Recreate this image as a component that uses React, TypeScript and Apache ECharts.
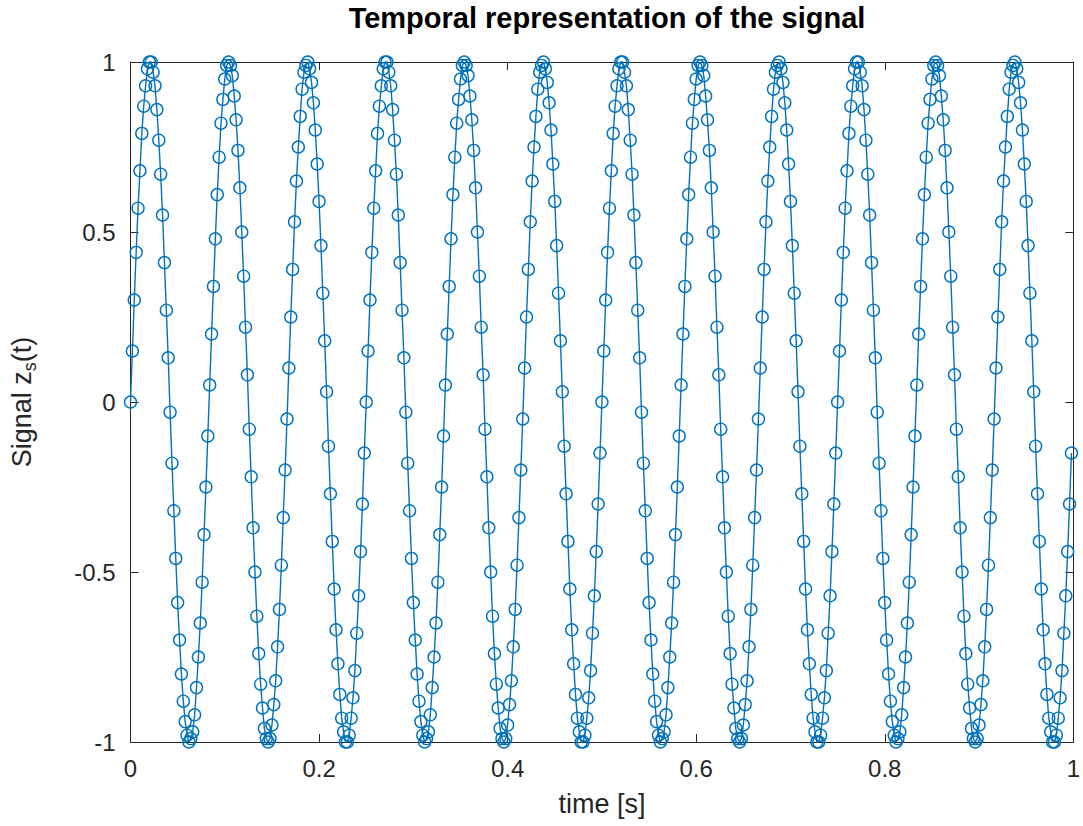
import React, { useEffect, useRef } from "react";
import * as echarts from "echarts";

const titleText = "Temporal representation of the signal";
const xLabel = "time [s]";
const sampleRate = 500; // samples per second, t = n / sampleRate
const xTicks = { min: 0, max: 1, interval: 0.2 };
const yTicks = { min: -1, max: 1, interval: 0.5 };

const signal = [
  0, 0.15, 0.30, 0.44, 0.57, 0.68, 0.79, 0.87, 0.93, 0.98,
  1.00, 1.00, 0.97, 0.93, 0.86, 0.77, 0.67, 0.55, 0.41, 0.27,
  0.13, -0.03, -0.18, -0.32, -0.46, -0.59, -0.70, -0.80, -0.88, -0.94,
  -0.98, -1.00, -0.99, -0.97, -0.92, -0.84, -0.75, -0.65, -0.53, -0.39,
  -0.25, -0.10, 0.05, 0.20, 0.34, 0.48, 0.61, 0.72, 0.82, 0.89,
  0.95, 0.99, 1.00, 0.99, 0.96, 0.90, 0.83, 0.74, 0.63, 0.50,
  0.37, 0.22, 0.08, -0.08, -0.22, -0.37, -0.50, -0.63, -0.74, -0.83,
  -0.90, -0.96, -0.99, -1.00, -0.99, -0.95, -0.89, -0.82, -0.72, -0.61,
  -0.48, -0.34, -0.20, -0.05, 0.10, 0.25, 0.39, 0.53, 0.65, 0.75,
  0.84, 0.92, 0.97, 0.99, 1.00, 0.98, 0.94, 0.88, 0.80, 0.70,
  0.59, 0.46, 0.32, 0.18, 0.03, -0.13, -0.27, -0.41, -0.55, -0.67,
  -0.77, -0.86, -0.93, -0.97, -1.00, -1.00, -0.98, -0.93, -0.87, -0.79,
  -0.68, -0.57, -0.44, -0.30, -0.15,
  0, 0.15, 0.30, 0.44, 0.57, 0.68, 0.79, 0.87, 0.93, 0.98,
  1.00, 1.00, 0.97, 0.93, 0.86, 0.77, 0.67, 0.55, 0.41, 0.27,
  0.13, -0.03, -0.18, -0.32, -0.46, -0.59, -0.70, -0.80, -0.88, -0.94,
  -0.98, -1.00, -0.99, -0.97, -0.92, -0.84, -0.75, -0.65, -0.53, -0.39,
  -0.25, -0.10, 0.05, 0.20, 0.34, 0.48, 0.61, 0.72, 0.82, 0.89,
  0.95, 0.99, 1.00, 0.99, 0.96, 0.90, 0.83, 0.74, 0.63, 0.50,
  0.37, 0.22, 0.08, -0.08, -0.22, -0.37, -0.50, -0.63, -0.74, -0.83,
  -0.90, -0.96, -0.99, -1.00, -0.99, -0.95, -0.89, -0.82, -0.72, -0.61,
  -0.48, -0.34, -0.20, -0.05, 0.10, 0.25, 0.39, 0.53, 0.65, 0.75,
  0.84, 0.92, 0.97, 0.99, 1.00, 0.98, 0.94, 0.88, 0.80, 0.70,
  0.59, 0.46, 0.32, 0.18, 0.03, -0.13, -0.27, -0.41, -0.55, -0.67,
  -0.77, -0.86, -0.93, -0.97, -1.00, -1.00, -0.98, -0.93, -0.87, -0.79,
  -0.68, -0.57, -0.44, -0.30, -0.15,
  0, 0.15, 0.30, 0.44, 0.57, 0.68, 0.79, 0.87, 0.93, 0.98,
  1.00, 1.00, 0.97, 0.93, 0.86, 0.77, 0.67, 0.55, 0.41, 0.27,
  0.13, -0.03, -0.18, -0.32, -0.46, -0.59, -0.70, -0.80, -0.88, -0.94,
  -0.98, -1.00, -0.99, -0.97, -0.92, -0.84, -0.75, -0.65, -0.53, -0.39,
  -0.25, -0.10, 0.05, 0.20, 0.34, 0.48, 0.61, 0.72, 0.82, 0.89,
  0.95, 0.99, 1.00, 0.99, 0.96, 0.90, 0.83, 0.74, 0.63, 0.50,
  0.37, 0.22, 0.08, -0.08, -0.22, -0.37, -0.50, -0.63, -0.74, -0.83,
  -0.90, -0.96, -0.99, -1.00, -0.99, -0.95, -0.89, -0.82, -0.72, -0.61,
  -0.48, -0.34, -0.20, -0.05, 0.10, 0.25, 0.39, 0.53, 0.65, 0.75,
  0.84, 0.92, 0.97, 0.99, 1.00, 0.98, 0.94, 0.88, 0.80, 0.70,
  0.59, 0.46, 0.32, 0.18, 0.03, -0.13, -0.27, -0.41, -0.55, -0.67,
  -0.77, -0.86, -0.93, -0.97, -1.00, -1.00, -0.98, -0.93, -0.87, -0.79,
  -0.68, -0.57, -0.44, -0.30, -0.15,
  0, 0.15, 0.30, 0.44, 0.57, 0.68, 0.79, 0.87, 0.93, 0.98,
  1.00, 1.00, 0.97, 0.93, 0.86, 0.77, 0.67, 0.55, 0.41, 0.27,
  0.13, -0.03, -0.18, -0.32, -0.46, -0.59, -0.70, -0.80, -0.88, -0.94,
  -0.98, -1.00, -0.99, -0.97, -0.92, -0.84, -0.75, -0.65, -0.53, -0.39,
  -0.25, -0.10, 0.05, 0.20, 0.34, 0.48, 0.61, 0.72, 0.82, 0.89,
  0.95, 0.99, 1.00, 0.99, 0.96, 0.90, 0.83, 0.74, 0.63, 0.50,
  0.37, 0.22, 0.08, -0.08, -0.22, -0.37, -0.50, -0.63, -0.74, -0.83,
  -0.90, -0.96, -0.99, -1.00, -0.99, -0.95, -0.89, -0.82, -0.72, -0.61,
  -0.48, -0.34, -0.20, -0.05, 0.10, 0.25, 0.39, 0.53, 0.65, 0.75,
  0.84, 0.92, 0.97, 0.99, 1.00, 0.98, 0.94, 0.88, 0.80, 0.70,
  0.59, 0.46, 0.32, 0.18, 0.03, -0.13, -0.27, -0.41, -0.55, -0.67,
  -0.77, -0.86, -0.93, -0.97, -1.00, -1.00, -0.98, -0.93, -0.87, -0.79,
  -0.68, -0.57, -0.44, -0.30, -0.15,
];

const FONT = "'Liberation Sans', Arial, Helvetica, sans-serif";
const BLUE = "#0072BD";
const AXIS = "#262626";

export default function App() {
  const ref = useRef<HTMLDivElement>(null);

  useEffect(() => {
    if (!ref.current) return;
    const chart = echarts.init(ref.current, null, { renderer: "svg" });
    const data = signal.map((v, i) => [i / sampleRate, v]);

    const axisLine = { show: true, onZero: false, lineStyle: { color: AXIS, width: 1 } };
    const axisTick = { show: true, inside: true, length: 8, lineStyle: { color: AXIS, width: 1 } };
    const label = { color: AXIS, fontSize: 24, fontFamily: FONT };

    chart.setOption({
      animation: false,
      backgroundColor: "#ffffff",
      title: {
        text: titleText,
        left: 602,
        top: -2,
        textAlign: "center",
        textStyle: { fontFamily: FONT, fontSize: 29, fontWeight: "bold", color: "#000" },
      },
      grid: { left: 128, right: 6, top: 62, bottom: 84, containLabel: false },
      xAxis: [
        {
          type: "value",
          position: "bottom",
          ...xTicks,
          axisLine,
          axisTick,
          splitLine: { show: false },
          axisLabel: { ...label, margin: 14 },
          name: xLabel,
          nameLocation: "middle",
          nameGap: 48,
          nameTextStyle: { fontFamily: FONT, fontSize: 27, color: AXIS },
        },
        {
          type: "value",
          position: "top",
          ...xTicks,
          axisLine,
          axisTick,
          splitLine: { show: false },
          axisLabel: { show: false },
        },
      ],
      yAxis: [
        {
          type: "value",
          position: "left",
          ...yTicks,
          axisLine,
          axisTick,
          splitLine: { show: false },
          axisLabel: { ...label, margin: 15 },
          name: "Signal z{sub|s}(t)",
          nameLocation: "middle",
          nameGap: 92,
          nameTextStyle: {
            fontFamily: FONT,
            fontSize: 27,
            color: AXIS,
            rich: {
              sub: { fontFamily: FONT, fontSize: 18, color: AXIS, verticalAlign: "bottom", lineHeight: 34 },
            },
          },
        },
        {
          type: "value",
          position: "right",
          ...yTicks,
          axisLine,
          axisTick,
          splitLine: { show: false },
          axisLabel: { show: false },
        },
      ],
      series: [
        {
          type: "line",
          xAxisIndex: 0,
          yAxisIndex: 0,
          data,
          showSymbol: true,
          showAllSymbol: true,
          symbol: "circle",
          symbolSize: 12,
          clip: false,
          lineStyle: { color: BLUE, width: 1.4 },
          itemStyle: { color: "rgba(0,0,0,0)", borderColor: BLUE, borderWidth: 1.4 },
          emphasis: { disabled: true },
        },
      ],
    });

    return () => chart.dispose();
  }, []);

  return (
    <div
      ref={ref}
      style={{ position: "fixed", left: 0, top: 0, width: 1083, height: 826, background: "#fff" }}
    />
  );
}
